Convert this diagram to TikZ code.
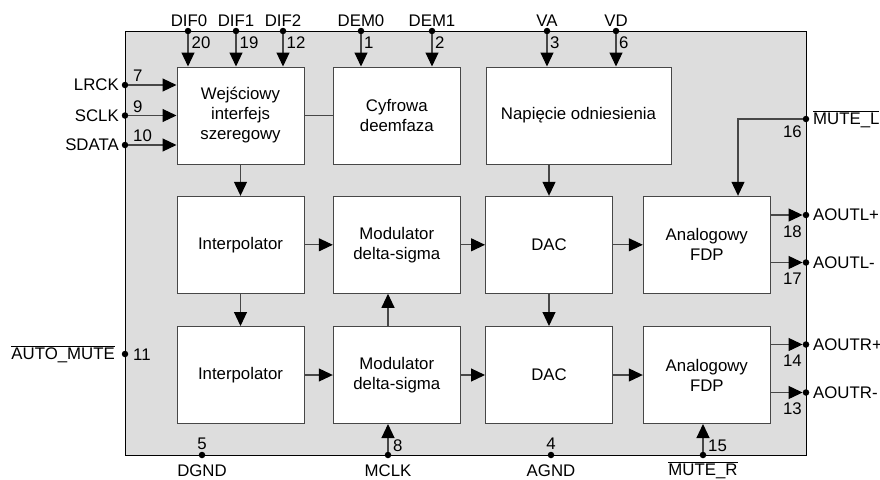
\documentclass[tikz,border=0pt]{standalone}
\usepackage{fontspec}
\setmainfont{Liberation Sans}
\usetikzlibrary{arrows.meta}
\definecolor{linec}{gray}{0.28}
\definecolor{chipfill}{gray}{0.865}
\begin{document}
\begin{tikzpicture}[x=1pt,y=-1pt,
  every node/.style={font=\fontsize{16.8}{20}\selectfont, inner sep=0pt},
  blk/.style={draw=linec, fill=white, line width=1pt, minimum width=127pt, minimum height=97pt, align=center},
  arr/.style={draw=linec, line width=1.1pt, -{Triangle[length=14pt,width=13pt,color=black]}},
  wire/.style={draw=linec, line width=1.1pt},
  pin/.style={circle, fill=black, minimum size=6.5pt, inner sep=0pt},
  lb/.style={anchor=base},
  lbw/.style={anchor=base west},
  lbe/.style={anchor=base east},
  ]
\useasboundingbox (0,0) rectangle (880,479);
% chip body
\node[draw=black, fill=chipfill, line width=1pt, minimum width=681pt, minimum height=424pt, anchor=north west] (chip) at (125,31) {};

% blocks
\node[blk] (win)  at (240.5,115.5) {Wejściowy\\interfejs\\szeregowy};
\node[blk] (dem)  at (396.8,115.5) {Cyfrowa\\deemfaza};
\node[blk, minimum width=185pt] (ref) at (578.5,115.5) {Napięcie odniesienia};
\node[blk] (int1) at (240.5,244.8) {Interpolator};
\node[blk] (mod1) at (396.8,244.8) {Modulator\\delta-sigma};
\node[blk] (dac1) at (549,244.8) {DAC};
\node[blk] (afl)  at (706.8,244.8) {Analogowy\\FDP};
\node[blk] (int2) at (240.5,375) {Interpolator};
\node[blk] (mod2) at (396.8,375) {Modulator\\delta-sigma};
\node[blk] (dac2) at (549,375) {DAC};
\node[blk] (afr)  at (706.8,375) {Analogowy\\FDP};

% pins
\node[pin] (pDIF0) at (188,31) {};
\node[pin] (pDIF1) at (236,31) {};
\node[pin] (pDIF2) at (283,31) {};
\node[pin] (pDEM0) at (361,31) {};
\node[pin] (pDEM1) at (432,31) {};
\node[pin] (pVA)   at (547,31) {};
\node[pin] (pVD)   at (616,31) {};
\node[pin] (pLRCK) at (125,85) {};
\node[pin] (pSCLK) at (125,115.5) {};
\node[pin] (pSDATA) at (125,145) {};
\node[pin] (pAM)   at (125,354) {};
\node[pin] (pDGND) at (202,455) {};
\node[pin] (pMCLK) at (388,455) {};
\node[pin] (pAGND) at (551,455) {};
\node[pin] (pMR)   at (703,455) {};
\node[pin] (pML)   at (806,119) {};
\node[pin] (pOLp)  at (806,215) {};
\node[pin] (pOLm)  at (806,262.5) {};
\node[pin] (pORp)  at (806,344.5) {};
\node[pin] (pORm)  at (806,392.5) {};
\coordinate (mx) at (388,0);
\coordinate (mlx) at (738,0);

% top inputs
\foreach \p in {DIF0,DIF1,DIF2}
  \draw[arr] (p\p) -- (p\p |- win.north);
\foreach \p in {DEM0,DEM1}
  \draw[arr] (p\p) -- (p\p |- dem.north);
\foreach \p in {VA,VD}
  \draw[arr] (p\p) -- (p\p |- ref.north);
% left inputs
\foreach \p in {LRCK,SCLK,SDATA}
  \draw[arr] (p\p) -- (p\p -| win.west);
% internal
\draw[wire] (win.east) -- (dem.west);
\draw[arr] (win.south) -- (int1.north);
\draw[arr] (int1.south) -- (int2.north);
\draw[arr] (dac1.north |- ref.south) -- (dac1.north);
\draw[arr] (dac1.south) -- (dac2.north);
\draw[arr] (int1.east) -- (mod1.west);
\draw[arr] (mod1.east) -- (dac1.west);
\draw[arr] (dac1.east) -- (afl.west);
\draw[arr] (int2.east) -- (mod2.west);
\draw[arr] (mod2.east) -- (dac2.west);
\draw[arr] (dac2.east) -- (afr.west);
\draw[arr] (mx |- mod2.north) -- (mx |- mod1.south);
% bottom inputs
\draw[arr] (pMCLK) -- (pMCLK |- mod2.south);
\draw[arr] (pMR) -- (pMR |- afr.south);
% mute L
\draw[arr] (pML) -- (pML -| mlx) -- (mlx |- afl.north);
% outputs
\draw[arr] (afl.east |- pOLp) -- (pOLp);
\draw[arr] (afl.east |- pOLm) -- (pOLm);
\draw[arr] (afr.east |- pORp) -- (pORp);
\draw[arr] (afr.east |- pORm) -- (pORm);

% top labels
\node[lb] (tDIF0) at (189,26) {DIF0};
\node[lb] (tDIF1) at (236,26) {DIF1};
\node[lb] (tDIF2) at (283,26) {DIF2};
\node[lb] (tDEM0) at (361,26) {DEM0};
\node[lb] (tDEM1) at (432,26) {DEM1};
\node[lb] (tVA)   at (547,26) {VA};
\node[lb] (tVD)   at (616,26) {VD};
\node[lbw] (nDIF0) at (191.5,48.5) {20};
\node[lbw] (nDIF1) at (239.5,48.5) {19};
\node[lbw] (nDIF2) at (286.5,48.5) {12};
\node[lbw] (nDEM0) at (364,48.5) {1};
\node[lbw] (nDEM1) at (435,48.5) {2};
\node[lbw] (nVA)   at (550,48.5) {3};
\node[lbw] (nVD)   at (619,48.5) {6};
% left labels
\node[lbe] (tLRCK)  at (119,90.5) {LRCK};
\node[lbe] (tSCLK)  at (119,121) {SCLK};
\node[lbe] (tSDATA) at (119,150.5) {SDATA};
\node[lbw] (nLRCK)  at (133,81.5) {7};
\node[lbw] (nSCLK)  at (133,112) {9};
\node[lbw] (nSDATA) at (133,141.5) {10};
\node[lbe] (tAM) at (115,359.5) {$\overline{\mbox{AUTO\_MUTE}}$};
\node[lbw] (nAM) at (133,360.5) {11};
% bottom labels
\node[lb] (nDGND) at (202,449) {5};
\node[lb] (tDGND) at (202,476.5) {DGND};
\node[lbw] (nMCLK) at (393,451) {8};
\node[lb] (tMCLK) at (388,476.5) {MCLK};
\node[lb] (nAGND) at (551,449) {4};
\node[lb] (tAGND) at (551,476.5) {AGND};
\node[lbw] (nMR) at (708,451) {15};
\node[lb] (tMR) at (703,475) {$\overline{\mbox{MUTE\_R}}$};
% right labels
\node[lbw] (tML)  at (813,124.5) {$\overline{\mbox{MUTE\_L}}$};
\node[lbe] (nML)  at (802,137) {16};
\node[lbw] (tOLp) at (813,220.5) {AOUTL+};
\node[lbe] (nOLp) at (802,237) {18};
\node[lbw] (tOLm) at (813,268) {AOUTL-};
\node[lbe] (nOLm) at (802,284) {17};
\node[lbw] (tORp) at (813,350) {AOUTR+};
\node[lbe] (nORp) at (802,366.5) {14};
\node[lbw] (tORm) at (813,398) {AOUTR-};
\node[lbe] (nORm) at (802,414) {13};
\end{tikzpicture}
\end{document}
